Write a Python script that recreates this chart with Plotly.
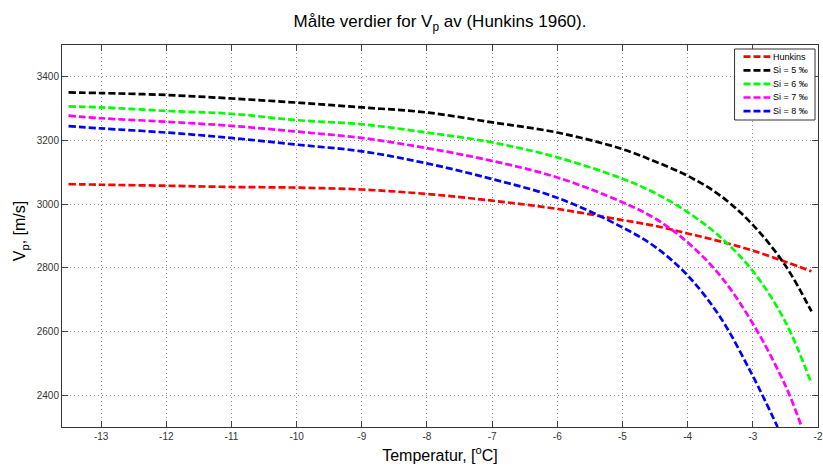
import plotly.graph_objects as go

# Measured P-wave velocity vs. temperature (Hunkins 1960) and model curves for salinities
t_hunkins = [-13.5, -13, -12, -11, -10, -9, -8, -7, -6, -5, -4.5, -4, -3.5, -3, -2.5, -2.1]
v_hunkins = [3063, 3061, 3058, 3054, 3052, 3046, 3032, 3011, 2985, 2950, 2932, 2908, 2883, 2854, 2819, 2789]

t_si5 = [-13.5, -13, -12, -11, -10, -9, -8, -7, -6, -5, -4.5, -4, -3.5, -3, -2.5, -2.1]
v_si5 = [3351, 3349, 3343, 3332, 3319, 3304, 3288, 3257, 3225, 3173, 3134, 3089, 3027, 2935, 2807, 2663]

t_si6 = [-13.5, -13, -12, -11, -10, -9, -8, -7, -6, -5, -4.5, -4, -3.5, -3, -2.5, -2.1]
v_si6 = [3307, 3304, 3293, 3284, 3264, 3251, 3225, 3194, 3147, 3080, 3035, 2975, 2897, 2790, 2630, 2436]

t_si7 = [-13.5, -13, -12, -11, -10, -9, -8, -7, -6, -5, -4.5, -4, -3.5, -3, -2.5, -2.25]
v_si7 = [3278, 3270, 3259, 3246, 3228, 3208, 3176, 3136, 3084, 3006, 2955, 2880, 2775, 2625, 2430, 2300]

t_si8 = [-13.5, -13, -12, -11, -10, -9, -8, -7, -6, -5, -4.5, -4, -3.5, -3, -2.62]
v_si8 = [3245, 3238, 3225, 3208, 3187, 3166, 3128, 3079, 3020, 2927, 2866, 2776, 2645, 2460, 2300]

series_names = ["Hunkins", "Si = 5 \u2030", "Si = 6 \u2030", "Si = 7 \u2030", "Si = 8 \u2030"]
series_t = [t_hunkins, t_si5, t_si6, t_si7, t_si8]
series_v = [v_hunkins, v_si5, v_si6, v_si7, v_si8]
series_colors = ["#ff0000", "#000000", "#00ff00", "#ff00ff", "#0000ff"]

x_ticks = [-13, -12, -11, -10, -9, -8, -7, -6, -5, -4, -3, -2]
x_tick_labels = ["-13", "-12", "-11", "-10", "-9", "-8", "-7", "-6", "-5", "-4", "-3", "-2"]
y_ticks = [2400, 2600, 2800, 3000, 3200, 3400]
y_tick_labels = ["2400", "2600", "2800", "3000", "3200", "3400"]

W, H = 823, 467
ML, MR, MT, MB = 62, 0, 45, 40
PW, PH = W - ML - MR, H - MT - MB
FONT = "Arial, Liberation Sans, sans-serif"
DASH = "7px,3px"
LW = 2.7

fig = go.Figure()
for name, t, v, c in zip(series_names, series_t, series_v, series_colors):
    fig.add_trace(go.Scatter(
        x=t, y=v, mode="lines", name=name, showlegend=False,
        line=dict(color=c, width=LW, dash=DASH, shape="spline", smoothing=1.0),
    ))

axis_common = dict(
    showline=True, linecolor="#333333", linewidth=1, mirror="ticks",
    ticks="inside", ticklen=6, tickcolor="#444444", tickwidth=1,
    showgrid=True, gridcolor="#8c8c8c", gridwidth=1, griddash="1px,3px",
    zeroline=False, tickfont=dict(family=FONT, size=10, color="#333333"),
)

fig.update_xaxes(
    range=[-13.6, -2], tickmode="array", tickvals=x_ticks, ticktext=x_tick_labels,
    ticklabeloverflow="allow",
    title=dict(text="Temperatur, [<sup>o</sup>C]", font=dict(family=FONT, size=16, color="#000000"), standoff=8),
    **axis_common,
)
fig.update_yaxes(
    range=[2300, 3500], tickmode="array", tickvals=y_ticks, ticktext=y_tick_labels,
    **axis_common,
)


def px(xp):
    """Pixel column -> paper x."""
    return (xp - ML) / PW


def py(yp):
    """Pixel row -> paper y."""
    return 1 - (yp - MT) / PH


# Y-axis label
fig.add_annotation(xref="paper", yref="paper", x=px(20), y=py(231),
                   text="V<sub>p</sub>, [m/s]", textangle=-90, showarrow=False,
                   xanchor="center", yanchor="middle",
                   font=dict(family=FONT, size=16, color="#000000"))

# Legend box
box_l, box_r, box_t, box_b = 739, 820, 49, 120
fig.add_shape(type="rect", xref="paper", yref="paper",
              x0=px(box_l), x1=px(box_r), y0=py(box_b), y1=py(box_t),
              line=dict(color="#333333", width=1), fillcolor="#ffffff", layer="above")
row_y0, row_step = 56.7, 13.6
for i, (name, c) in enumerate(zip(series_names, series_colors)):
    yy = row_y0 + i * row_step
    fig.add_shape(type="line", xref="paper", yref="paper",
                  x0=px(748), x1=px(775), y0=py(yy), y1=py(yy),
                  line=dict(color=c, width=LW, dash=DASH), layer="above")
    fig.add_annotation(xref="paper", yref="paper", x=px(776), y=py(yy),
                       text=name, showarrow=False, xanchor="left", yanchor="middle",
                       font=dict(family=FONT, size=9, color="#000000"))

fig.update_layout(
    width=W, height=H,
    margin=dict(l=ML, r=MR, t=MT, b=MB),
    paper_bgcolor="#ffffff", plot_bgcolor="#ffffff",
    title=dict(text="Målte verdier for V<sub>p</sub> av (Hunkins 1960).",
               x=0.5, xref="paper", y=1 - 21 / H, yref="container", yanchor="middle",
               font=dict(family=FONT, size=17, color="#000000")),
    font=dict(family=FONT),
)

fig.write_html("out.html")
